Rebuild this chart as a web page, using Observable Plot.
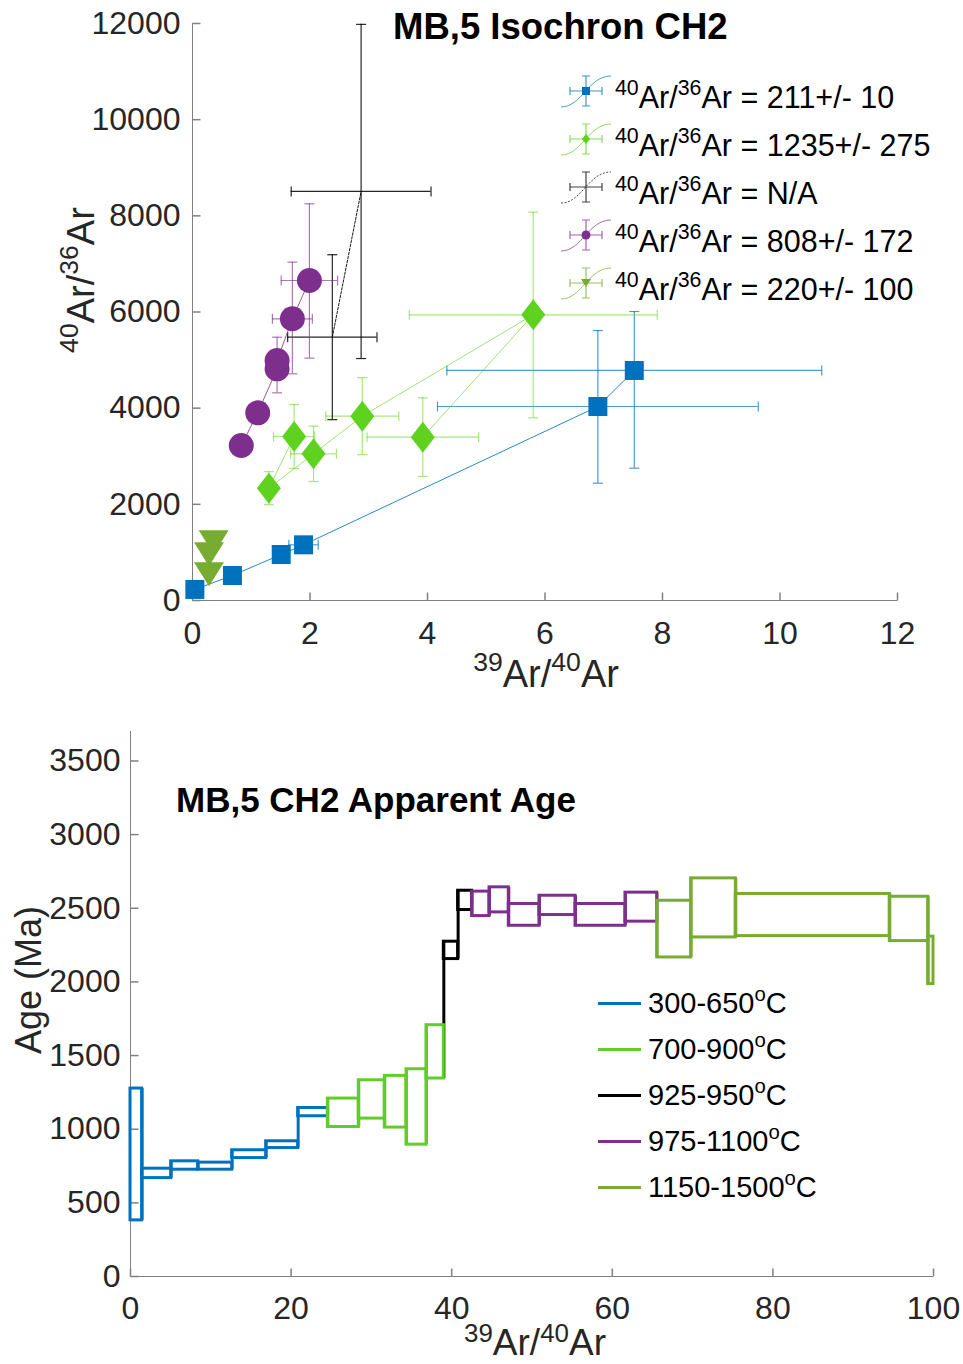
<!DOCTYPE html>
<html>
<head>
<meta charset="utf-8">
<script src="https://cdn.jsdelivr.net/npm/d3@7"></script>
<script src="https://cdn.jsdelivr.net/npm/@observablehq/plot@0.6"></script>
<style>
  html, body { margin: 0; padding: 0; background: #fff; }
  #page { position: relative; width: 963px; height: 1364px; overflow: hidden;
          font-family: "Liberation Sans", Arial, Helvetica, sans-serif; color: #000; }
  .chart { position: absolute; left: 0; width: 963px; }
  .chart svg { overflow: visible; }
  .chart svg text { font-family: "Liberation Sans", Arial, sans-serif; font-size: 32px; fill: #262626; }
  .txt { position: absolute; white-space: nowrap; line-height: 1; }
  .txt sup { font-size: 0.7em; line-height: 0; vertical-align: 0; position: relative; top: -0.6em; }
  .txt.low sup { top: -0.5em; }
  .title { font-weight: bold; font-size: 35px; }
  .title.big { font-size: 36.5px; }
  .axlabel { font-size: 38px; color: #262626; transform: translate(-50%, -50%); }
  .axlabel.plain { font-size: 36px; }
  .axlabel.small { font-size: 37px; }
  .axlabel.rot { transform: translate(-50%, -50%) rotate(-90deg); }
  .leg { font-size: 30.5px; }
  .leg2 { font-size: 29px; }
  .swatch { position: absolute; height: 3px; width: 43px; }
</style>
</head>
<body>
<div id="page">
  <div id="iso" class="chart" style="top:0;height:700px"></div>
  <div id="spec" class="chart" style="top:700px;height:664px"></div>
</div>
<script>
// ---------- Isochron: 39Ar/40Ar vs 40Ar/36Ar ----------
const isoTicksX = [0, 2, 4, 6, 8, 10, 12];
const isoTicksY = [0, 2000, 4000, 6000, 8000, 10000, 12000];
const isoLegend = ["211+/- 10", "1235+/- 275", "N/A", "808+/- 172", "220+/- 100"];
const isoColors = ["#0072BD", "#5ED21E", "#000000", "#7E2F8E", "#77AC30"];

// 300-650 °C steps
const blueX      = [0.04, 0.68, 1.51, 1.89, 6.90, 7.52];
const blueY      = [230, 520, 957, 1158, 4035, 4784];
const blueXErr   = [0.05, 0.06, 0.08, 0.25, 2.73, 3.19];
const blueYErrLo = [60, 60, 60, 90, 1595, 2032];
const blueYErrHi = [60, 60, 60, 90, 1580, 1226];

// 700-900 °C steps (in heating order)
const greenX      = [1.73, 1.30, 2.06, 2.89, 5.80, 3.92];
const greenY      = [3411, 2336, 3050, 3834, 5942, 3397];
const greenXErr   = [0.35, 0.12, 0.39, 0.62, 2.11, 0.95];
const greenYErrLo = [665, 343, 576, 800, 2142, 818];
const greenYErrHi = [665, 343, 576, 800, 2135, 818];

// 925-950 °C steps
const blackX      = [2.38, 2.87];
const blackY      = [5476, 8507];
const blackXErr   = [0.76, 1.19];
const blackYErrLo = [1715, 3475];
const blackYErrHi = [1715, 3475];

// 975-1100 °C steps
const purpleX      = [0.83, 1.11, 1.44, 1.44, 1.70, 1.99];
const purpleY      = [3224, 3903, 4819, 4992, 5859, 6655];
const purpleXErr   = [0.06, 0.06, 0.10, 0.08, 0.34, 0.48];
const purpleYErrLo = [150, 150, 500, 200, 1145, 1615];
const purpleYErrHi = [150, 150, 657, 200, 1178, 1595];

// 1150-1500 °C steps
const oliveX      = [0.36, 0.28, 0.28];
const oliveY      = [1213, 963, 547];
const oliveXErr   = [0.05, 0.05, 0.05];
const oliveYErrLo = [80, 80, 80];
const oliveYErrHi = [80, 80, 80];

// ---------- Apparent age spectrum ----------
const specTicksX = [0, 20, 40, 60, 80, 100];
const specTicksY = [0, 500, 1000, 1500, 2000, 2500, 3000, 3500];
const specLegend = ["300-650", "700-900", "925-950", "975-1100", "1150-1500"];
const specColors = ["#0072BD", "#62CC2A", "#000000", "#7E2F8E", "#77AC30"];
const stepEdges = [0, 1.45, 5.07, 8.43, 12.66, 16.9, 20.88, 24.58, 28.43, 31.67, 34.37, 36.86,
                   39.02, 40.8, 42.54, 44.71, 47.11, 50.93, 55.42, 61.64, 65.59, 69.82, 75.38,
                   94.56, 99.34, 100];
const stepAgeMax = [1276, 732, 782, 773, 857, 918, 1144,
                    1208, 1332, 1362, 1407, 1706,
                    2273, 2619,
                    2613, 2642, 2529, 2585, 2529, 2606,
                    2551, 2703, 2597, 2578, 2307];
const stepAgeMin = [381, 668, 725, 725, 804, 872, 1088,
                    1015, 1072, 1011, 895, 1344,
                    2155, 2488,
                    2447, 2472, 2381, 2454, 2381, 2409,
                    2166, 2302, 2311, 2277, 1985];
const stepGroup = [0, 0, 0, 0, 0, 0, 0, 1, 1, 1, 1, 1, 2, 2, 3, 3, 3, 3, 3, 3, 4, 4, 4, 4, 4];

// ---------- symbols ----------
const shape = (f) => ({draw: f});
const squareSym  = shape(c => { c.moveTo(-9.5, -9.5); c.lineTo(9.5, -9.5); c.lineTo(9.5, 9.5); c.lineTo(-9.5, 9.5); c.closePath(); });
const diamondSym = shape(c => { c.moveTo(0, -15.5); c.lineTo(12, 0); c.lineTo(0, 15.5); c.lineTo(-12, 0); c.closePath(); });
const circleSym  = shape(c => { c.moveTo(12.5, 0); c.arc(0, 0, 12.5, 0, 2 * Math.PI); c.closePath(); });
const triDownSym = shape(c => { c.moveTo(-15, -12); c.lineTo(15, -12); c.lineTo(0, 12); c.closePath(); });
const capH = shape(c => { c.moveTo(-5, 0); c.lineTo(5, 0); });
const capV = shape(c => { c.moveTo(0, -5); c.lineTo(0, 5); });
const tickUp = shape(c => { c.moveTo(0, 0); c.lineTo(0, -8); });
const tickRight = shape(c => { c.moveTo(0, 0); c.lineTo(8, 0); });

const axisColor = "#808080";

function rowsOf(x, y, ex, lo, hi) {
  return d3.range(x.length).map(i => ({
    x: x[i], y: y[i], x1: x[i] - ex[i], x2: x[i] + ex[i], y1: y[i] - lo[i], y2: y[i] + hi[i]
  }));
}

const isoSeries = [
  {rows: rowsOf(blueX, blueY, blueXErr, blueYErrLo, blueYErrHi), color: isoColors[0], barOpacity: 0.7, lineOpacity: 0.85, symbol: squareSym},
  {rows: rowsOf(greenX, greenY, greenXErr, greenYErrLo, greenYErrHi), color: isoColors[1], barOpacity: 0.55, lineOpacity: 0.6, symbol: diamondSym},
  {rows: rowsOf(blackX, blackY, blackXErr, blackYErrLo, blackYErrHi), color: isoColors[2], barOpacity: 0.85, lineOpacity: 0.9, symbol: null, dash: "2.5,1.5"},
  {rows: rowsOf(purpleX, purpleY, purpleXErr, purpleYErrLo, purpleYErrHi), color: isoColors[3], barOpacity: 0.65, lineOpacity: 0.8, symbol: circleSym},
  {rows: rowsOf(oliveX, oliveY, oliveXErr, oliveYErrLo, oliveYErrHi), color: isoColors[4], barOpacity: 0.65, lineOpacity: 0.8, symbol: triDownSym}
];

const isoMarks = [
  Plot.ruleX([0], {stroke: axisColor}),
  Plot.ruleY([0], {stroke: axisColor}),
  Plot.dot(isoTicksX, {x: d => d, y: () => 0, symbol: tickUp, r: 4, stroke: axisColor, fill: "none"}),
  Plot.dot(isoTicksY, {x: () => 0, y: d => d, symbol: tickRight, r: 4, stroke: axisColor, fill: "none"})
];
for (const s of isoSeries) {
  const bar = {stroke: s.color, strokeOpacity: s.barOpacity, strokeWidth: 1.2};
  isoMarks.push(
    Plot.line(s.rows, {x: "x", y: "y", stroke: s.color, strokeOpacity: s.lineOpacity, strokeWidth: 1, strokeDasharray: s.dash}),
    Plot.ruleX(s.rows, {x: "x", y1: "y1", y2: "y2", ...bar}),
    Plot.ruleY(s.rows, {y: "y", x1: "x1", x2: "x2", ...bar}),
    Plot.dot(s.rows, {x: "x", y: "y1", symbol: capH, r: 4, fill: "none", ...bar}),
    Plot.dot(s.rows, {x: "x", y: "y2", symbol: capH, r: 4, fill: "none", ...bar}),
    Plot.dot(s.rows, {x: "x1", y: "y", symbol: capV, r: 4, fill: "none", ...bar}),
    Plot.dot(s.rows, {x: "x2", y: "y", symbol: capV, r: 4, fill: "none", ...bar})
  );
  if (s.symbol) isoMarks.push(Plot.dot(s.rows, {x: "x", y: "y", symbol: s.symbol, r: 10, fill: s.color, stroke: "none"}));
}

const isoPlot = Plot.plot({
  width: 963, height: 700,
  marginLeft: 192, marginRight: 66, marginTop: 23, marginBottom: 100,
  style: {background: "transparent", overflow: "visible"},
  x: {domain: [0, 12], ticks: isoTicksX, tickSize: 0, tickPadding: 21, label: null},
  y: {domain: [0, 12000], ticks: isoTicksY, tickSize: 0, tickPadding: 12, label: null, tickFormat: d => String(d)},
  marks: isoMarks
});
document.getElementById("iso").appendChild(isoPlot);

// ---------- spectrum ----------
const steps = d3.range(stepAgeMax.length).map(i => ({
  x1: stepEdges[i], x2: stepEdges[i + 1], lo: stepAgeMin[i], hi: stepAgeMax[i], g: stepGroup[i]
}));
const risers = d3.range(1, steps.length).map(i => ({
  x: stepEdges[i],
  lo: Math.min(stepAgeMin[i - 1], stepAgeMin[i]),
  hi: Math.max(stepAgeMax[i - 1], stepAgeMax[i]),
  g: stepGroup[i]
}));

const specMarks = [
  Plot.ruleX([0], {stroke: axisColor}),
  Plot.ruleY([0], {stroke: axisColor}),
  Plot.dot(specTicksX, {x: d => d, y: () => 0, symbol: tickUp, r: 4, stroke: axisColor, fill: "none"}),
  Plot.dot(specTicksY, {x: () => 0, y: d => d, symbol: tickRight, r: 4, stroke: axisColor, fill: "none"})
];
specColors.forEach((c, g) => {
  specMarks.push(Plot.ruleX(risers.filter(r => r.g === g), {x: "x", y1: "lo", y2: "hi", stroke: c, strokeWidth: 3}));
});
steps.forEach(s => {
  specMarks.push(Plot.rect([s], {x1: "x1", x2: "x2", y1: "lo", y2: "hi", fill: "none", stroke: specColors[s.g], strokeWidth: 3}));
});

const specPlot = Plot.plot({
  width: 963, height: 664,
  marginLeft: 130, marginRight: 30, marginTop: 31, marginBottom: 88,
  style: {background: "transparent", overflow: "visible"},
  x: {domain: [0, 100], ticks: specTicksX, tickSize: 0, tickPadding: 20, label: null},
  y: {domain: [0, 3700], ticks: specTicksY, tickSize: 0, tickPadding: 10, label: null, tickFormat: d => String(d)},
  marks: specMarks
});
document.getElementById("spec").appendChild(specPlot);

// ---------- text and legends ----------
const page = document.getElementById("page");
function addText(html, cls, style) {
  const el = document.createElement("div");
  el.className = "txt " + cls;
  el.innerHTML = html;
  Object.assign(el.style, style);
  page.appendChild(el);
  return el;
}
const ratio = (a, b) => `<sup>${a}</sup>Ar/<sup>${b}</sup>Ar`;

addText("MB,5 Isochron CH2", "title big", {left: "393px", top: "9px"});
addText("MB,5 CH2 Apparent Age", "title", {left: "176px", top: "782px"});
addText(ratio(40, 36), "axlabel rot", {left: "81px", top: "280px"});
addText(ratio(39, 40), "axlabel", {left: "546px", top: "674px"});
addText("Age (Ma)", "axlabel plain rot", {left: "29px", top: "980px"});
addText(ratio(39, 40), "axlabel small low", {left: "535px", top: "1342px"});

// isochron legend: errorbar glyph + text
isoLegend.forEach((t, i) => {
  const c = isoColors[i];
  const dash = i === 2 ? ' stroke-dasharray="2,1.5"' : "";
  let marker = "";
  if (i === 0) marker = `<rect x="22" y="13" width="8" height="8" fill="${c}"/>`;
  if (i === 1) marker = `<path d="M26,12 L30,17 L26,22 L22,17Z" fill="${c}"/>`;
  if (i === 3) marker = `<circle cx="26" cy="17" r="4.5" fill="${c}"/>`;
  if (i === 4) marker = `<path d="M21,13 L31,13 L26,21Z" fill="${c}"/>`;
  const svg = `<svg width="54" height="36" viewBox="0 0 54 36" style="position:absolute;left:560px;top:${74 + 48 * i}px;overflow:visible">
    <path d="M1,33 C22,33 28,2 51,2" fill="none" stroke="${c}" stroke-opacity="0.7" stroke-width="1"${dash}/>
    <g stroke="${c}" stroke-opacity="0.75" stroke-width="1.2" fill="none">
      <path d="M26,2 V32 M22,2 H30 M22,32 H30 M10,17 H42 M10,13 V21 M42,13 V21"/>
    </g>${marker}</svg>`;
  page.insertAdjacentHTML("beforeend", svg);
  addText(`${ratio(40, 36)} = ${t}`, "leg", {left: "615px", top: `${82 + 48 * i}px`});
});

// spectrum legend
specLegend.forEach((t, i) => {
  const y = 1004 + 46 * i;
  const sw = document.createElement("div");
  sw.className = "swatch";
  Object.assign(sw.style, {left: "598px", top: `${y - 2.5}px`, background: specColors[i]});
  page.appendChild(sw);
  addText(`${t}<sup>o</sup>C`, "leg2", {left: "648px", top: `${y - 15}px`});
});
</script>
</body>
</html>
